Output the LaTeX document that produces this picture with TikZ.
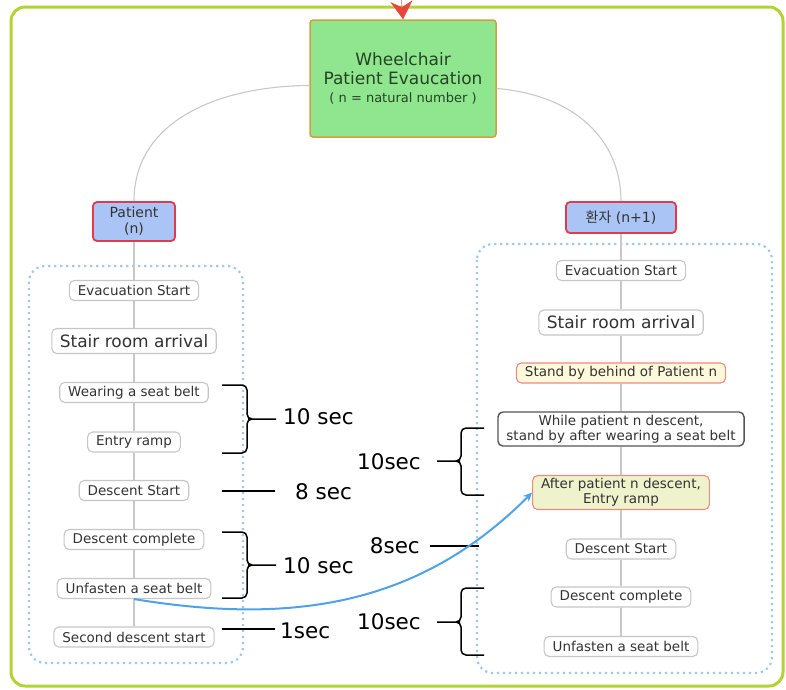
\documentclass[tikz,border=0pt]{standalone}
\usepackage{fontspec}
\setmainfont{DejaVu Sans}
\newfontfamily\krfont{Noto Sans CJK KR}
\usetikzlibrary{arrows.meta}

\definecolor{framegreen}{HTML}{B2D235}
\definecolor{zoneblue}{HTML}{9EC8EC}
\definecolor{boxgray}{HTML}{C6C6C6}
\definecolor{ink}{HTML}{333333}
\definecolor{headred}{HTML}{E23A4A}
\definecolor{headblue}{HTML}{A9C4F5}
\definecolor{maingreen}{HTML}{90E68E}
\definecolor{mainedge}{HTML}{D0A040}
\definecolor{maintext}{HTML}{254425}
\definecolor{linkgray}{HTML}{C8C8C8}
\definecolor{cream}{HTML}{FFF9DC}
\definecolor{paleolive}{HTML}{EEF3CC}
\definecolor{pinkline}{HTML}{EE8A80}
\definecolor{topred}{HTML}{E8453C}
\definecolor{flowblue}{HTML}{4EA3E6}
\definecolor{darkedge}{HTML}{555555}

\begin{document}
\begin{tikzpicture}[x=1pt,y=-1pt,
  item/.style={draw=boxgray,fill=white,rounded corners=5pt,line width=1.1pt,
    inner xsep=8.5pt,inner ysep=1pt,minimum height=20pt,text=ink,
    font=\fontsize{13.5}{15}\selectfont},
  bigitem/.style={item,minimum height=25pt,inner xsep=8pt,font=\fontsize{17}{18}\selectfont},
  note/.style={item,align=center,inner ysep=3pt},
  who/.style={draw=headred,fill=headblue,line width=1.8pt,rounded corners=4pt,
    align=center,text=ink,font=\fontsize{14}{16}\selectfont},
  zone/.style={draw=zoneblue,line width=2.2pt,dash pattern=on 2.2pt off 3.8pt,rounded corners=16pt},
  link/.style={draw=linkgray,line width=1.1pt},
  bar/.style={line width=1.5pt,rounded corners=5pt},
  sec/.style={font=\fontsize{21.5}{24}\selectfont,inner sep=0pt}]

\useasboundingbox (0,0) rectangle (786,689);
\draw[framegreen,line width=3pt,rounded corners=14pt] (11,7) rectangle (783,686);

% top
\node[draw=mainedge,fill=maingreen,line width=1.5pt,rounded corners=3pt,minimum width=186pt,
  minimum height=117pt,align=center,text=maintext,font=\fontsize{17}{19}\selectfont]
  (main) at (403,78.5) {Wheelchair\\Patient Evaucation\\[-1pt]{\fontsize{13}{14}\selectfont ( n = natural number )}};
\coordinate (src) at (401,-4);
\draw[topred,-{Stealth[length=18pt,width=22pt,inset=6pt]}] (src) -- (main.north);

\node[who,minimum width=82pt,minimum height=39pt] (pat) at (134,221.5) {Patient\\(n)};
\node[who,minimum width=110pt,minimum height=31pt] (pat2) at (621,217.5) {{\krfont 환자} (n+1)};

\draw[link] ([yshift=-7pt]main.west) .. controls (220,86) and (134,120) .. (pat.north);
\draw[link] ([yshift=-10pt]main.east) .. controls (575,95) and (621,140) .. (pat2.north);

% patient n
\draw[zone] (29,266) rectangle (243,663);
\node[item] (l1) at (134,290.5) {Evacuation Start};
\node[bigitem] (l2) at (134,341) {Stair room arrival};
\node[item] (l3) at (134,392.5) {Wearing a seat belt};
\node[item] (l4) at (134,442) {Entry ramp};
\node[item] (l5) at (134,490.5) {Descent Start};
\node[item] (l6) at (134,539.5) {Descent complete};
\node[item] (l7) at (134,588.5) {Unfasten a seat belt};
\node[item] (l8) at (134,637) {Second descent start};
\foreach \u/\v in {pat/l1,l1/l2,l2/l3,l3/l4,l4/l5,l5/l6,l6/l7,l7/l8}
  \draw[link] (\u) -- (\v);

% patient n+1
\draw[zone] (477,244) rectangle (772,673);
\node[item] (r1) at (621,270.5) {Evacuation Start};
\node[bigitem] (r2) at (621,322.5) {Stair room arrival};
\node[item,draw=pinkline,fill=cream] (r3) at (621,373) {Stand by behind of Patient n};
\node[note,draw=darkedge,line width=1.4pt] (r4) at (621,429) {While patient n descent,\\stand by after wearing a seat belt};
\node[note,draw=pinkline,fill=paleolive] (r5) at (621,492.5) {After patient n descent,\\Entry ramp};
\node[item] (r6) at (621,549) {Descent Start};
\node[item] (r7) at (621,597) {Descent complete};
\node[item] (r8) at (621,646.5) {Unfasten a seat belt};
\foreach \u/\v in {pat2/r1,r1/r2,r2/r3,r3/r4,r4/r5,r5/r6,r6/r7,r7/r8}
  \draw[link] (\u) -- (\v);

% times
\foreach \a/\b/\m in {385/453/419,532/598/565}
  \draw[bar] (222,\a) -- (247,\a) -- (247,\m) -- (253,\m) -- (276,\m)
             (222,\b) -- (247,\b) -- (247,\m) -- (253,\m);
\foreach \a/\b/\m in {428/495/461,588/655/622}
  \draw[bar] (484,\a) -- (461,\a) -- (461,\m) -- (455,\m) -- (437,\m)
             (484,\b) -- (461,\b) -- (461,\m) -- (455,\m);
\coordinate (t8) at (222,491);
\coordinate (t1) at (222,629);
\coordinate (u8) at (430,546);
\draw[line width=1.5pt] (t8) -- ++(53,0);
\draw[line width=1.5pt] (t1) -- ++(53,0);
\draw[line width=1.5pt] (u8) -- ++(49,0);

\node[sec,anchor=west] (s1) at (283,417) {10 sec};
\node[sec,anchor=west] (s2) at (295,492) {8 sec};
\node[sec,anchor=west] (s3) at (283,566) {10 sec};
\node[sec,anchor=west] (s4) at (280,631) {1sec};
\node[sec,anchor=east] (s5) at (421,462) {10sec};
\node[sec,anchor=east] (s6) at (420,546) {8sec};
\node[sec,anchor=east] (s7) at (421,622) {10sec};

\draw[flowblue,line width=2pt,-{Stealth[length=9pt,width=8pt]}]
  (l7.south) .. controls (292,625) and (419,606) .. (r5.west);

\end{tikzpicture}
\end{document}
